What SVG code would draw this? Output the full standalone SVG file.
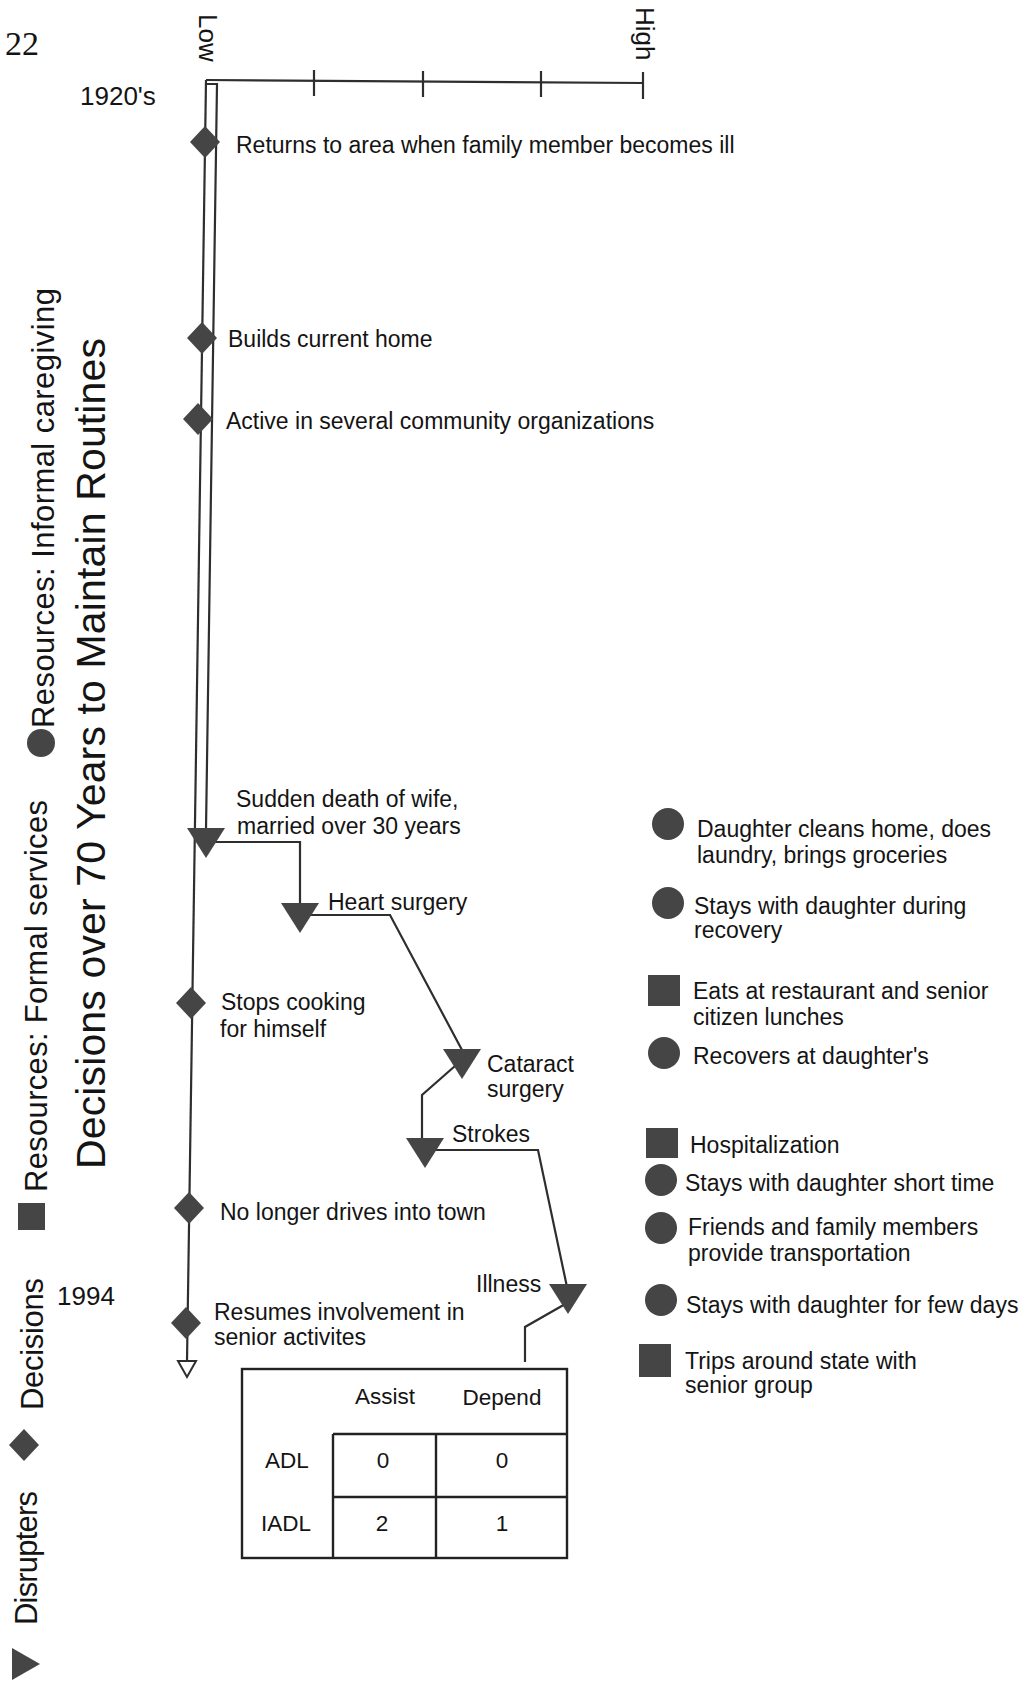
<svg xmlns="http://www.w3.org/2000/svg" xmlns:xlink="http://www.w3.org/1999/xlink" width="1029" height="1684" viewBox="0 0 1029 1684">
<style>
  text { font-family: "Liberation Sans", Arial, sans-serif; fill: #141414; }
  .lbl { font-size: 23px; }
  .tbl { font-size: 22.5px; text-anchor: middle; }
  .leg { font-size: 31px; }
  .ttl { font-size: 41px; }
  .yr { font-size: 26px; }
  .ax { font-size: 26px; }
  .ln { fill: none; stroke: #2e2e2e; stroke-width: 2.2; stroke-linejoin: miter; }
  .shape { fill: #454545; }
  .grid { fill: none; stroke: #222; stroke-width: 2.4; }
</style>
<defs>
  <path id="dia" d="M0,-16 L15,0 L0,16 L-15,0 Z"/>
  <path id="tri" d="M-19,0 L19,0 L0,30 Z"/>
</defs>
<rect width="1029" height="1684" fill="#ffffff"/>

<!-- page number -->
<text x="5" y="55" style="font-family:'Liberation Serif',serif;font-size:34px">22</text>

<!-- axis -->
<g id="axis">
  <path class="ln" d="M206,80 L643,83"/>
  <path class="ln" d="M314,70 L314,96 M423,71 L423,97 M541,71 L541,97 M643,72 L643,99"/>
  <text class="ax" transform="translate(199,14) rotate(90)">Low</text>
  <text class="ax" transform="translate(636,7) rotate(90)">High</text>
  <text class="yr" x="80" y="105">1920's</text>
  <text class="yr" x="57" y="1305">1994</text>
</g>

<!-- connectors -->
<g id="connectors">
  <path class="ln" d="M206,80 L187,1362"/>
  <path class="ln" d="M206,84 L217,84 L206,830"/>
  <path class="ln" d="M214,842 L300,842 L300,905"/>
  <path class="ln" d="M310,915 L390,915 L462,1050"/>
  <path class="ln" d="M455,1066 L422,1095 L422,1140"/>
  <path class="ln" d="M433,1150 L538,1150 L567,1287"/>
  <path class="ln" d="M567,1303 L525,1327 L525,1362"/>
</g>

<!-- decisions -->
<g id="d-returns"><use href="#dia" x="205" y="142" class="shape"/><text class="lbl" x="236" y="153">Returns to area when family member becomes ill</text></g>
<g id="d-builds"><use href="#dia" x="202" y="338" class="shape"/><text class="lbl" x="228" y="347">Builds current home</text></g>
<g id="d-active"><use href="#dia" x="198" y="419" class="shape"/><text class="lbl" x="226" y="429">Active in several community organizations</text></g>
<g id="d-cooking"><use href="#dia" x="191" y="1003" class="shape"/><text class="lbl" x="221" y="1010">Stops cooking</text><text class="lbl" x="220" y="1037">for himself</text></g>
<g id="d-drives"><use href="#dia" x="189" y="1208" class="shape"/><text class="lbl" x="220" y="1220">No longer drives into town</text></g>
<g id="d-resumes"><use href="#dia" x="186" y="1323" class="shape"/><text class="lbl" x="214" y="1320">Resumes involvement in</text><text class="lbl" x="214" y="1345">senior activites</text></g>
<g id="end"><path d="M178,1361 L196,1361 L187,1377 Z" fill="#fff" stroke="#2e2e2e" stroke-width="2"/></g>

<!-- disrupters -->
<g id="x-death"><use href="#tri" x="206" y="828" class="shape"/><text class="lbl" x="236" y="807">Sudden death of wife,</text><text class="lbl" x="237" y="834">married over 30 years</text></g>
<g id="x-heart"><use href="#tri" x="300" y="903" class="shape"/><text class="lbl" x="328" y="910">Heart surgery</text></g>
<g id="x-cataract"><use href="#tri" x="462" y="1049" class="shape"/><text class="lbl" x="487" y="1072">Cataract</text><text class="lbl" x="487" y="1097">surgery</text></g>
<g id="x-strokes"><use href="#tri" x="425" y="1138" class="shape"/><text class="lbl" x="452" y="1142">Strokes</text></g>
<g id="x-illness"><use href="#tri" x="568" y="1284" class="shape"/><text class="lbl" x="476" y="1292">Illness</text></g>

<!-- table -->
<g id="table">
  <rect class="grid" x="242" y="1369" width="325" height="189"/>
  <path class="grid" d="M333,1434 L567,1434 M333,1434 L333,1558 M436,1434 L436,1558 M333,1497 L567,1497"/>
  <text class="tbl" x="385" y="1404">Assist</text>
  <text class="tbl" x="502" y="1405">Depend</text>
  <text class="tbl" x="287" y="1468">ADL</text>
  <text class="tbl" x="383" y="1468">0</text>
  <text class="tbl" x="502" y="1468">0</text>
  <text class="tbl" x="286" y="1531">IADL</text>
  <text class="tbl" x="382" y="1531">2</text>
  <text class="tbl" x="502" y="1531">1</text>
</g>

<!-- resources -->
<g id="r1"><circle class="shape" cx="668" cy="824" r="16"/><text class="lbl" x="697" y="837">Daughter cleans home, does</text><text class="lbl" x="697" y="863">laundry, brings groceries</text></g>
<g id="r2"><circle class="shape" cx="668" cy="903" r="16"/><text class="lbl" x="694" y="914">Stays with daughter during</text><text class="lbl" x="694" y="938">recovery</text></g>
<g id="r3"><rect class="shape" x="648" y="975" width="32" height="31"/><text class="lbl" x="693" y="999">Eats at restaurant and senior</text><text class="lbl" x="693" y="1025">citizen lunches</text></g>
<g id="r4"><circle class="shape" cx="664" cy="1053" r="16"/><text class="lbl" x="693" y="1064">Recovers at daughter's</text></g>
<g id="r5"><rect class="shape" x="646" y="1128" width="32" height="30"/><text class="lbl" x="690" y="1153">Hospitalization</text></g>
<g id="r6"><circle class="shape" cx="661" cy="1180" r="16"/><text class="lbl" x="685" y="1191">Stays with daughter short time</text></g>
<g id="r7"><circle class="shape" cx="661" cy="1228" r="16"/><text class="lbl" x="688" y="1235">Friends and family members</text><text class="lbl" x="688" y="1261">provide transportation</text></g>
<g id="r8"><circle class="shape" cx="661" cy="1300" r="16"/><text class="lbl" x="686" y="1313">Stays with daughter for few days</text></g>
<g id="r9"><rect class="shape" x="639" y="1344" width="32" height="33"/><text class="lbl" x="685" y="1369">Trips around state with</text><text class="lbl" x="685" y="1393">senior group</text></g>

<!-- legend and title -->
<g id="legend">
  <path class="shape" d="M12,1648 L12,1680 L40,1664 Z"/>
  <text class="leg" transform="translate(37,1625) rotate(-90)" textLength="134">Disrupters</text>
  <use href="#dia" x="24" y="1445" class="shape"/>
  <text class="leg" transform="translate(43,1410) rotate(-90)" textLength="132">Decisions</text>
  <rect class="shape" x="18" y="1203" width="27" height="27"/>
  <text class="leg" transform="translate(47,1192) rotate(-90)" textLength="392">Resources: Formal services</text>
  <circle class="shape" cx="41" cy="743" r="14"/>
  <text class="leg" transform="translate(54,728) rotate(-90)" textLength="440">Resources: Informal caregiving</text>
</g>
<g id="title">
  <text class="ttl" transform="translate(105,1169) rotate(-90)" textLength="831">Decisions over 70 Years to Maintain Routines</text>
</g>
</svg>
